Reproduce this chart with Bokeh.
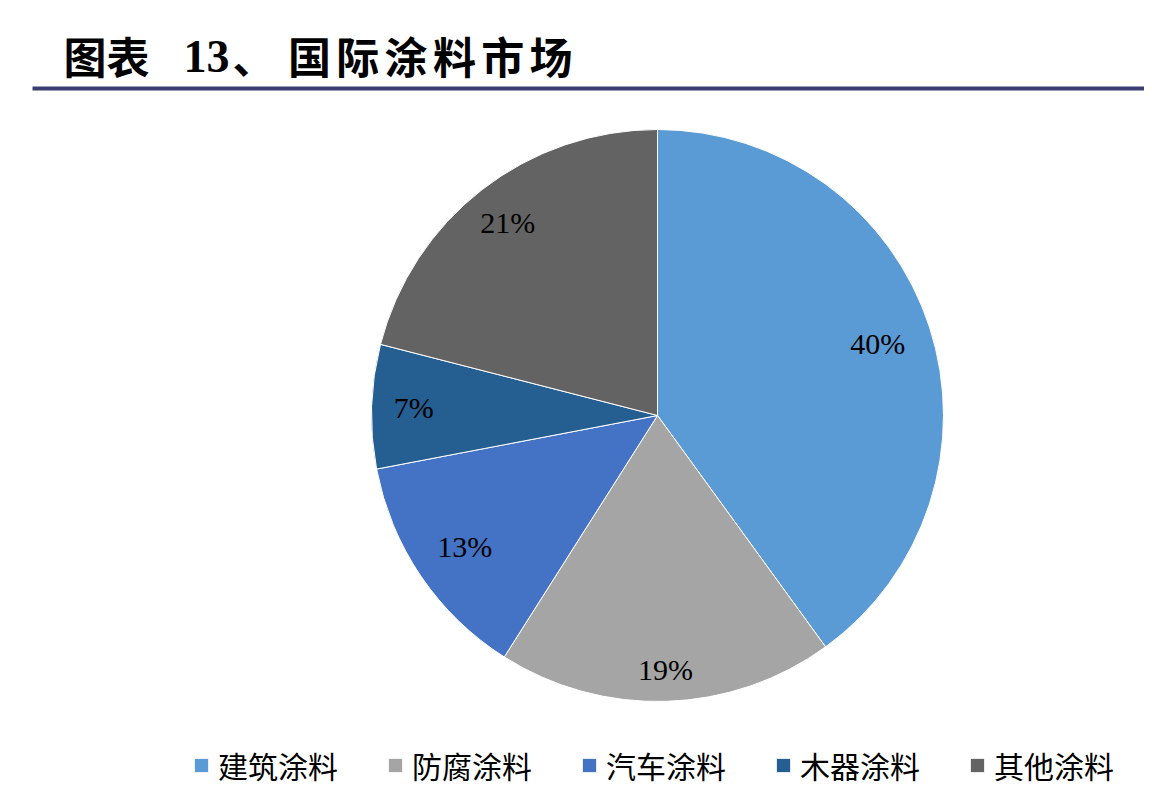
import numpy as np
from bokeh.plotting import figure
from bokeh.models import Range1d, ColumnDataSource, Legend, LegendItem
from bokeh.core.properties import value
from bokeh.embed import file_html
from bokeh.resources import INLINE

# ---- data ----
categories = ["建筑涂料", "防腐涂料", "汽车涂料", "木器涂料", "其他涂料"]
shares = [40, 19, 13, 7, 21]
colors = ["#5B9BD5", "#A5A5A5", "#4472C4", "#255E91", "#636363"]
label_radius = [0.81, 0.89, 0.815, 0.853, 0.855]

title_parts = ["图表", "13", "、"]
title_rest = "国际涂料市场"

# ---- canvas ----
W, H = 1144, 790
p = figure(width=W, height=H, x_range=Range1d(0, W), y_range=Range1d(0, H),
           output_backend="svg", toolbar_location=None, min_border=0,
           x_axis_location=None, y_axis_location=None)
p.grid.visible = False
p.outline_line_color = None
p.background_fill_color = "white"
p.border_fill_color = "white"

# ---- pie ----
cx, cy, R = 657, 375, 286
frac = np.array(shares, dtype=float) / sum(shares)
ends = np.cumsum(frac)
starts = ends - frac
start_angle = np.pi / 2 - 2 * np.pi * starts
end_angle = np.pi / 2 - 2 * np.pi * ends
mid = (start_angle + end_angle) / 2

src = ColumnDataSource(dict(cat=categories, share=shares, color=colors,
                            sa=start_angle, ea=end_angle))
wr = p.wedge(x=cx, y=cy, radius=R, start_angle="sa", end_angle="ea",
             direction="clock", fill_color="color", line_color="white",
             line_width=1, source=src)

lr = np.array(label_radius) * R
lab = ColumnDataSource(dict(x=cx + lr * np.cos(mid), y=cy + lr * np.sin(mid),
                            t=[f"{s}%" for s in shares]))
p.text(x="x", y="y", text="t", source=lab, text_font=value("Liberation Serif"),
       text_font_size="30px", text_align="center", text_baseline="middle",
       text_color="black")

# ---- title ----
ty = 736
p.text(x=[63], y=[ty], text=[title_parts[0]], text_font=value("Noto Sans CJK SC"),
       text_font_size="43px", text_font_style="bold", text_align="left",
       text_baseline="middle", text_color="black")
p.text(x=[183], y=[ty - 2], text=[title_parts[1]], text_font=value("Liberation Serif"),
       text_font_size="46px", text_font_style="bold", text_align="left",
       text_baseline="middle", text_color="black")
p.text(x=[232], y=[ty], text=[title_parts[2]], text_font=value("Noto Sans CJK SC"),
       text_font_size="43px", text_font_style="bold", text_align="left",
       text_baseline="middle", text_color="black")
chars = list(title_rest)
p.text(x=[287 + 22 + i * 48.3 for i in range(len(chars))], y=[ty] * len(chars),
       text=chars, text_font=value("Noto Sans CJK SC"), text_font_size="43px",
       text_font_style="bold", text_align="center", text_baseline="middle",
       text_color="black")
p.segment(x0=[32], y0=[702], x1=[W], y1=[702], line_width=4, line_color="#3C3D73")

# ---- legend ----
legend = Legend(items=[LegendItem(label=c, renderers=[wr], index=i)
                       for i, c in enumerate(categories)],
                orientation="horizontal", location=(192, 3),
                glyph_width=18, glyph_height=18, label_standoff=8, spacing=48,
                padding=0, margin=0, border_line_color=None,
                background_fill_alpha=0, label_text_font="Noto Sans CJK SC",
                label_text_font_size="30px", label_text_color="black")
p.add_layout(legend, "center")

open("out.html", "w").write(file_html(p, INLINE))
